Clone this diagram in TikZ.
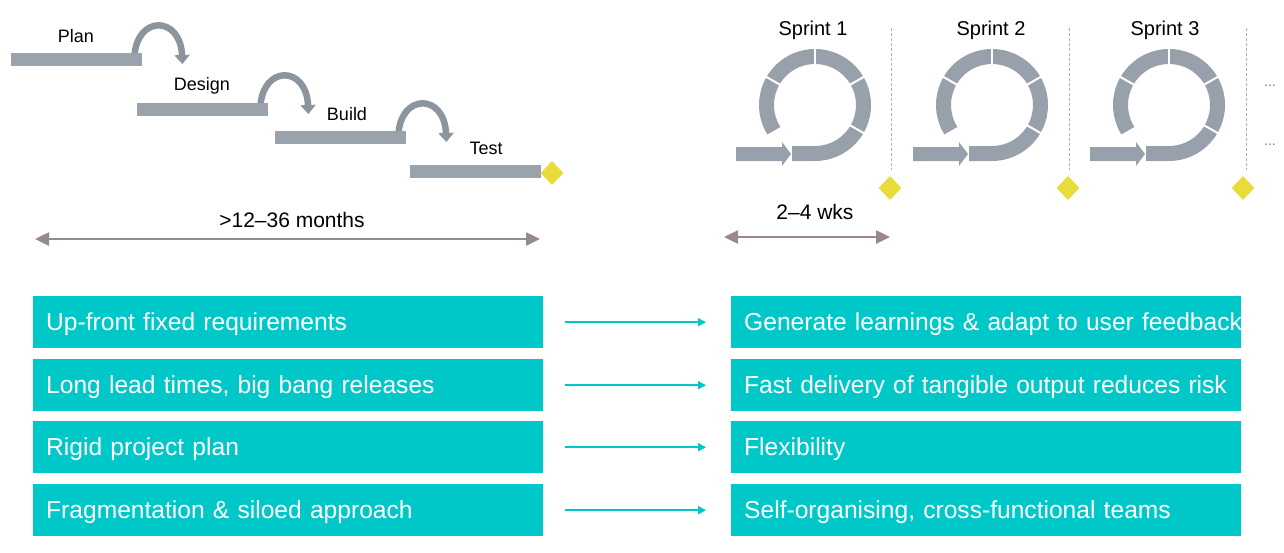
\documentclass[tikz,border=0pt]{standalone}
\usepackage{fontspec}
\setmainfont{Liberation Sans}
\newfontfamily\rowfont[WordSpace=0.7]{Liberation Sans}
\usetikzlibrary{arrows.meta,shapes.geometric,calc}
\definecolor{teal1}{RGB}{0,200,200}
\definecolor{bargray}{RGB}{154,162,172}
\definecolor{ringgray}{RGB}{152,161,171}
\definecolor{curvgray}{RGB}{140,149,158}
\definecolor{diayellow}{RGB}{232,220,58}
\definecolor{spanbrown}{RGB}{152,138,138}
\definecolor{dashgray}{RGB}{175,175,175}
\definecolor{dotgray}{RGB}{120,120,120}
\begin{document}
\begin{tikzpicture}[x=1pt,y=-1pt,
 bar/.style={fill=bargray, draw=none, minimum width=131pt, minimum height=13pt, inner sep=0pt, anchor=north west},
 phase/.style={font=\fontsize{18}{20}\selectfont, inner sep=0pt, text=black},
 milestone/.style={diamond, fill=diayellow, draw=none, minimum width=23pt, minimum height=24pt, inner sep=0pt},
 curvarrow/.style={draw=curvgray, line width=6.5pt, -{Triangle[length=9pt,width=15pt]}},
 span/.style={draw=spanbrown, line width=2.5pt, {Triangle[length=14pt,width=13pt]}-{Triangle[length=14pt,width=13pt]}},
 spanlabel/.style={font=\fontsize{21}{24}\selectfont, inner sep=0pt},
 sprintlabel/.style={font=\fontsize{20}{24}\selectfont, inner sep=0pt},
 sep/.style={draw=dashgray, line width=0.8pt, dash pattern=on 3pt off 2pt},
 ring/.style={draw=ringgray, line width=15pt},
 ringgap/.style={draw=white, line width=2pt},
 infeed/.style={fill=ringgray, draw=none},
 rowbox/.style={fill=teal1, draw=none, text=white, anchor=north west, minimum height=52pt, text width=484pt, inner xsep=13pt, inner ysep=0pt, text height=18pt, text depth=2pt, align=left, font=\rowfont\fontsize{24.6}{30}\selectfont},
 link/.style={draw=teal1, line width=1.8pt, -{Triangle[length=8pt,width=8pt]}, shorten <=22pt, shorten >=25pt},
 dots/.style={text=dotgray, font=\fontsize{14}{16}\selectfont, inner sep=0pt}
]
\useasboundingbox (0,0) rectangle (1284,552);

% ---------- waterfall ----------
\node[bar] (plan) at (11,53) {};
\node[bar] (design) at (137,103) {};
\node[bar] (build) at (275,131) {};
\node[bar] (test) at (410,165) {};

\node[phase] (tplan) at (76,36) {Plan};
\node[phase] (tdesign) at (202,86) {Design};
\node[phase] (tbuild) at (347,114) {Build};
\node[phase] (ttest) at (486,148) {Test};

\foreach \b in {plan,design,build}{
  \draw[curvarrow] ($(\b.north east)+(-8,4)$) .. controls ($(\b.north east)+(-6,-38)$) and ($(\b.north east)+(38,-38)$) .. ($(\b.north east)+(40,11)$);
}
% redraw bars on top of arrow bases
\fill[bargray] (plan.north west) rectangle (plan.south east);
\fill[bargray] (design.north west) rectangle (design.south east);
\fill[bargray] (build.north west) rectangle (build.south east);

\node[milestone] (mtest) at (552,173) {};

\coordinate (mL) at (35,239);
\coordinate (mR) at (540,239);
\draw[span] (mL) -- (mR);
\node[spanlabel] (months) at (292,220) {>12–36 months};

% ---------- sprints ----------
\foreach \k/\cx/\lx/\sx/\dx in {1/815/813/891/890, 2/992/991/1069/1068, 3/1169/1165/1246/1243}{
  \node[sprintlabel] (sprint\k) at (\lx,30) {Sprint \k};
  \begin{scope}[shift={(\cx,105)}]
    \fill[infeed] (-79,42) -- (-33,42) -- (-33,37) -- (-24,49) -- (-33,61) -- (-33,56) -- (-79,56) -- cycle;
    \draw[ring] (-23,48.5) -- (0,48.5) arc[start angle=90, end angle=-212, radius=48.5];
    \foreach \a in {30,-30,-90,-150}{
      \draw[ringgap] (\a:39) -- (\a:58);
    }
  \end{scope}
  \coordinate (septop\k) at (\sx,28);
  \coordinate (sepbot\k) at (\sx,170);
  \draw[sep] (septop\k) -- (sepbot\k);
  \node[milestone] (ms\k) at (\dx,188) {};
}
\node[dots] (dotsa) at (1270,86) {...};
\node[dots] (dotsb) at (1270,145) {...};

\coordinate (wL) at (724,237);
\coordinate (wR) at (890,237);
\draw[span] (wL) -- (wR);
\node[spanlabel] (wks) at (815,212) {2–4 wks};

% ---------- comparison rows ----------
\node[rowbox] (l1) at (33,296) {\mbox{Up-front fixed requirements}};
\node[rowbox] (l2) at (33,359) {\mbox{Long lead times, big bang releases}};
\node[rowbox] (l3) at (33,421) {\mbox{Rigid project plan}};
\node[rowbox] (l4) at (33,484) {\mbox{Fragmentation \& siloed approach}};

\node[rowbox] (r1) at (731,296) {\mbox{Generate learnings \& adapt to user feedback}};
\node[rowbox] (r2) at (731,359) {\mbox{Fast delivery of tangible output reduces risk}};
\node[rowbox] (r3) at (731,421) {\mbox{Flexibility}};
\node[rowbox] (r4) at (731,484) {\mbox{Self-organising, cross-functional teams}};

\foreach \i in {1,2,3,4}{
  \draw[link] (l\i.east) -- (r\i.west);
}
\end{tikzpicture}
\end{document}
